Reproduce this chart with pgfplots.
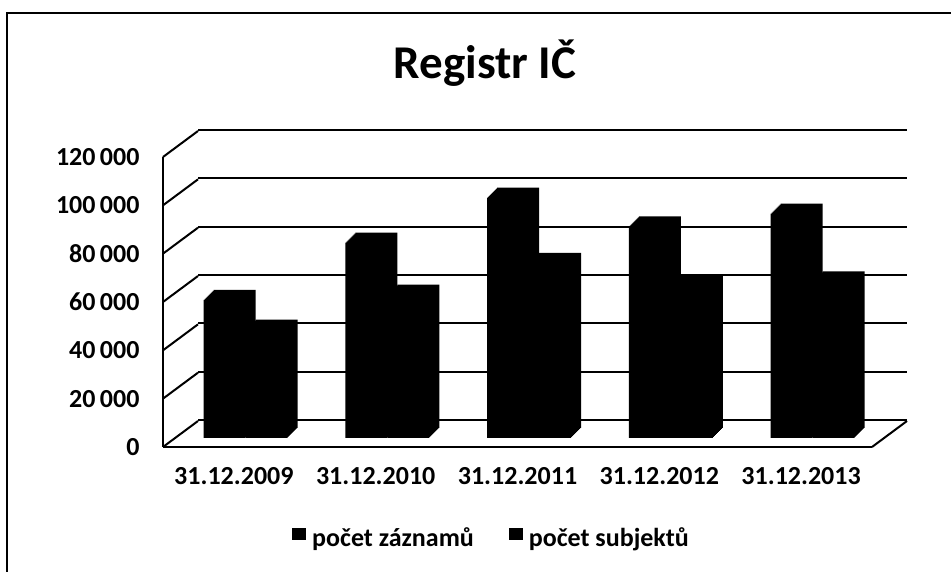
\documentclass[border=0pt]{standalone}
\usepackage{pgfplots}
\usepackage{pgfplotstable}
\usepackage{fontspec}
\setmainfont{Carlito}
\pgfplotsset{compat=1.18}
\pgfplotstableread{
x y
0 57200
1 80800
2 99500
3 87600
4 92800
}\zaznamy
\pgfplotstableread{
x y
0 44800
1 59300
2 72500
3 63200
4 64800
}\subjekty
\begin{document}
\begin{tikzpicture}[x=1pt,y=1pt]
\useasboundingbox (0,0) rectangle (951,572);
\draw[line width=2pt] (7,0) -- (7,559) -- (951,559);
% back wall
\begin{axis}[at={(198pt,152pt)},anchor=south west,scale only axis,width=709pt,height=290pt,
  xmin=-0.5,xmax=4.5,ymin=0,ymax=120000,scaled y ticks=false,
  ytick={0,20000,40000,60000,80000,100000,120000},xtick=\empty,yticklabels={},
  axis line style={draw=none},major tick length=0pt,
  ymajorgrids,grid style={black,line width=2pt}]
\addplot[draw=none,forget plot] coordinates {(0,0)};
\end{axis}
% front plane
\begin{axis}[at={(163pt,125pt)},anchor=south west,scale only axis,width=709pt,height=290pt,
  xmin=-0.5,xmax=4.5,ymin=0,ymax=120000,clip=false,scaled y ticks=false,
  axis y line*=left,axis x line*=bottom,
  axis line style={black,line width=2pt,-},
  ytick={0,20000,40000,60000,80000,100000,120000},
  yticklabels={0,20\,000,40\,000,60\,000,80\,000,100\,000,120\,000},
  xtick={0,1,2,3,4},
  xticklabels={31.12.2009,31.12.2010,31.12.2011,31.12.2012,31.12.2013},
  major tick length=0pt,
  tick label style={font=\fontsize{26}{30}\selectfont\bfseries},
  yticklabel style={xshift=-20pt},
  xticklabel style={yshift=-17pt},
  legend columns=2,
  legend style={at={(328.5pt,-91pt)},anchor=center,draw=none,fill=none,
    font=\fontsize{26}{30}\selectfont\bfseries,
    /tikz/every even column/.append style={column sep=33pt}},
  legend image code/.code={\pgfsetbaseline{0pt}\fill[black] (0pt,-11pt) rectangle (14pt,1pt);\path (18pt,0pt);},
]
\pgfplotsinvokeforeach{0,20000,40000,60000,80000,100000,120000}{
  \draw[black,line width=2pt] (axis cs:-0.5,#1) -- ++(35pt,26pt);
}
\draw[black,line width=2pt] (axis cs:4.5,0) -- ++(35pt,26pt);
\addplot[ybar,bar width=42pt,bar shift=-21pt,fill=black,draw=none,xshift=11.6pt,yshift=9pt] table[x=x,y=y] {\zaznamy};
\addlegendentry{počet záznamů}
\addplot[ybar,bar width=42pt,bar shift=21pt,fill=black,draw=none,xshift=11.6pt,yshift=9pt] table[x=x,y=y] {\subjekty};
\addlegendentry{počet subjektů}
\pgfplotsinvokeforeach{1,...,10}{
  \addplot[forget plot,ybar,bar width=42pt,bar shift=-21pt,fill=black,draw=none,xshift={11.6pt+#1*1pt},yshift={9pt+#1*1pt}] table[x=x,y=y] {\zaznamy};
  \addplot[forget plot,ybar,bar width=42pt,bar shift=21pt,fill=black,draw=none,xshift={11.6pt+#1*1pt},yshift={9pt+#1*1pt}] table[x=x,y=y] {\subjekty};
}
\end{axis}
\node[anchor=base,inner sep=0pt,font=\fontsize{47}{54}\selectfont\bfseries] at (485,493) {Registr IČ};
\end{tikzpicture}
\end{document}
